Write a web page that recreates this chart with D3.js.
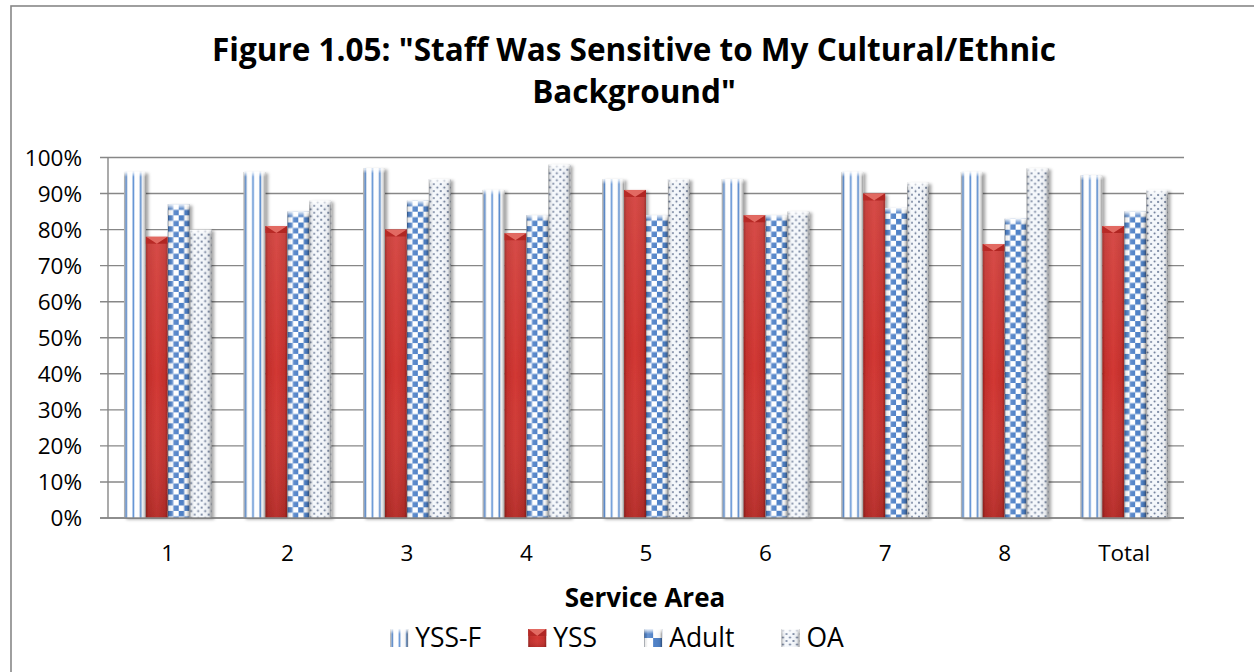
<!DOCTYPE html>
<html>
<head>
<meta charset="utf-8">
<script src="https://cdn.jsdelivr.net/npm/d3@7"></script>
<style>
  html, body { margin: 0; padding: 0; background: #fff; }
  svg { display: block; }
  text { font-family: "Open Sans", "DejaVu Sans", sans-serif; fill: #000; }
</style>
</head>
<body>
<svg id="chart" width="1254" height="672"></svg>
<script>
// Service areas and the share of respondents who agreed, by survey
const categories = ["1", "2", "3", "4", "5", "6", "7", "8", "Total"];
const seriesNames = ["YSS-F", "YSS", "Adult", "OA"];
const yssF  = [96, 96, 97, 91, 94, 94, 96, 96, 95];
const yss   = [78, 81, 80, 79, 91, 84, 90, 76, 81];
const adult = [87, 85, 88, 84, 84, 84, 86, 83, 85];
const oa    = [80, 88, 94, 98, 94, 85, 93, 97, 91];
const yTicks = [0, 10, 20, 30, 40, 50, 60, 70, 80, 90, 100];
const titleLines = ['Figure 1.05: "Staff Was Sensitive to My Cultural/Ethnic', 'Background"'];
const xTitle = "Service Area";

const seriesValues = [yssF, yss, adult, oa];

const svg = d3.select("#chart");
const W = 1254, H = 672;
const plot = { left: 108, right: 1184, top: 157.5, bottom: 518 };

const x = d3.scaleBand().domain(categories).range([plot.left, plot.right]).paddingInner(0).paddingOuter(0);
const xInner = d3.scaleBand().domain(seriesNames).range([0, x.bandwidth()]).paddingInner(0).paddingOuter(0.73);
const y = d3.scaleLinear().domain([0, 100]).range([plot.bottom, plot.top]);
const bw = xInner.bandwidth();

const defs = svg.append("defs");
const blue = "#4f81c7";

// Vertical stripes (YSS-F)
const stripe = defs.append("pattern").attr("id", "pat-stripe")
  .attr("patternUnits", "userSpaceOnUse").attr("width", bw / 3).attr("height", 10);
stripe.append("rect").attr("width", bw / 3).attr("height", 10).attr("fill", "#ffffff");
stripe.append("rect").attr("x", 1.3).attr("width", 1.7).attr("height", 10).attr("fill", "#5c8fd3");

// Checkerboard (Adult)
const cell = bw / 4;
const checker = defs.append("pattern").attr("id", "pat-check")
  .attr("patternUnits", "userSpaceOnUse").attr("width", cell * 2).attr("height", cell * 2);
checker.append("rect").attr("width", cell * 2).attr("height", cell * 2).attr("fill", "#ffffff");
checker.append("rect").attr("x", 0).attr("y", 0).attr("width", cell).attr("height", cell).attr("fill", blue);
checker.append("rect").attr("x", cell).attr("y", cell).attr("width", cell).attr("height", cell).attr("fill", blue);

// Legend-sized checkerboard: two cells across
const lgCell = 9;
const checkerLg = defs.append("pattern").attr("id", "pat-check-lg")
  .attr("patternUnits", "userSpaceOnUse").attr("width", lgCell * 2).attr("height", lgCell * 2);
checkerLg.append("rect").attr("width", lgCell * 2).attr("height", lgCell * 2).attr("fill", "#ffffff");
checkerLg.append("rect").attr("x", 0).attr("y", 0).attr("width", lgCell).attr("height", lgCell).attr("fill", blue);
checkerLg.append("rect").attr("x", lgCell).attr("y", lgCell).attr("width", lgCell).attr("height", lgCell).attr("fill", blue);

// Small dots (OA)
const dots = defs.append("pattern").attr("id", "pat-dots")
  .attr("patternUnits", "userSpaceOnUse").attr("width", 7).attr("height", 7);
dots.append("rect").attr("width", 7).attr("height", 7).attr("fill", "#f4f7fb");
dots.append("circle").attr("cx", 1.5).attr("cy", 1.5).attr("r", 1.0).attr("fill", "#5d6d8c");
dots.append("circle").attr("cx", 5).attr("cy", 5).attr("r", 1.0).attr("fill", "#5d6d8c");

// Red fill, darker at the edges
const redGrad = defs.append("linearGradient").attr("id", "grad-red").attr("x1", 0).attr("x2", 1).attr("y1", 0).attr("y2", 0);
[[0, "#98201c"], [0.12, "#c22f2b"], [0.5, "#d23834"], [0.88, "#c22f2b"], [1, "#92201c"]]
  .forEach(([o, c]) => redGrad.append("stop").attr("offset", o).attr("stop-color", c));
const redV = defs.append("linearGradient").attr("id", "grad-red-v").attr("x1", 0).attr("x2", 0).attr("y1", 0).attr("y2", 1);
[[0, "#ffffff", 0.1], [0.5, "#ffffff", 0], [1, "#000000", 0.12]]
  .forEach(([o, c, a]) => redV.append("stop").attr("offset", o).attr("stop-color", c).attr("stop-opacity", a));

// Rounded edge shading for patterned bars
const edge = defs.append("linearGradient").attr("id", "grad-edge").attr("x1", 0).attr("x2", 1).attr("y1", 0).attr("y2", 0);
[[0, "#000", 0.4], [0.08, "#000", 0.06], [0.2, "#fff", 0.15], [0.5, "#fff", 0], [0.85, "#000", 0.05], [0.94, "#000", 0.22], [1, "#000", 0.45]]
  .forEach(([o, c, a]) => edge.append("stop").attr("offset", o).attr("stop-color", c).attr("stop-opacity", a));

const capGrad = defs.append("linearGradient").attr("id", "grad-cap").attr("x1", 0).attr("x2", 0).attr("y1", 0).attr("y2", 1);
[[0, "#fff", 0.9], [1, "#fff", 0]]
  .forEach(([o, c, a]) => capGrad.append("stop").attr("offset", o).attr("stop-color", c).attr("stop-opacity", a));

const shadow = defs.append("filter").attr("id", "shadow").attr("x", "-30%").attr("y", "-5%").attr("width", "170%").attr("height", "115%");
shadow.append("feDropShadow").attr("dx", 2.5).attr("dy", 1.5).attr("stdDeviation", 1.6)
  .attr("flood-color", "#000").attr("flood-opacity", 0.35);

const fills = { "YSS-F": "url(#pat-stripe)", "YSS": "url(#grad-red)", "Adult": "url(#pat-check)", "OA": "url(#pat-dots)" };

// Chart frame
svg.append("rect").attr("x", 11).attr("y", 6).attr("width", W + 20).attr("height", H + 20)
  .attr("fill", "none").attr("stroke", "#878787").attr("stroke-width", 1.6);

// Title
const title = svg.append("text").attr("text-anchor", "middle")
  .attr("font-size", 31.5).attr("font-weight", 700);
title.selectAll("tspan").data(titleLines).join("tspan")
  .attr("x", 634).attr("y", (d, i) => 61 + i * 42).text(d => d);

// Horizontal gridlines and y tick marks
const grid = svg.append("g");
grid.selectAll("line").data(yTicks).join("line")
  .attr("x1", plot.left - 8).attr("x2", plot.right)
  .attr("y1", d => y(d)).attr("y2", d => y(d))
  .attr("stroke", "#878787").attr("stroke-width", 1.4);
svg.append("line").attr("x1", plot.left).attr("x2", plot.left)
  .attr("y1", plot.top).attr("y2", plot.bottom)
  .attr("stroke", "#878787").attr("stroke-width", 1.4);

svg.append("g").selectAll("text").data(yTicks).join("text")
  .attr("x", 82).attr("y", d => y(d)).attr("dy", "0.36em")
  .attr("text-anchor", "end").attr("font-size", 22.5)
  .text(d => d + "%");

// One bar (or legend swatch) with its fill, edge shading and bevelled top
function drawBar(g, name, w, h, fill) {
  g.append("rect").attr("width", w).attr("height", h).attr("fill", fill || fills[name]);
  if (name === "YSS") {
    g.append("rect").attr("width", w).attr("height", h).attr("fill", "url(#grad-red-v)");
    const capH = Math.min(7, h * 0.4);
    g.append("polygon")
      .attr("points", `0,0 ${w},0 ${w / 2},${capH}`)
      .attr("fill", "#e26a62");
    g.append("polygon")
      .attr("points", `0,0 ${w / 2},${capH} 0,${capH}`)
      .attr("fill", "#b82a27");
    g.append("polygon")
      .attr("points", `${w},0 ${w / 2},${capH} ${w},${capH}`)
      .attr("fill", "#b02624");
  } else {
    g.append("rect").attr("width", w).attr("height", h).attr("fill", "url(#grad-edge)");
    g.append("rect").attr("width", w).attr("height", Math.min(5, h)).attr("fill", "url(#grad-cap)");
  }
}

const groups = svg.append("g").selectAll("g").data(categories).join("g")
  .attr("transform", d => `translate(${x(d)},0)`);

groups.each(function (cat, ci) {
  const g = d3.select(this);
  seriesNames.forEach((name, si) => {
    const v = seriesValues[si][ci];
    const bar = g.append("g")
      .attr("transform", `translate(${xInner(name)},${y(v)})`)
      .attr("filter", "url(#shadow)");
    drawBar(bar, name, bw, y(0) - y(v));
  });
});

// Category axis
svg.append("line").attr("x1", plot.left - 8).attr("x2", plot.right)
  .attr("y1", plot.bottom).attr("y2", plot.bottom)
  .attr("stroke", "#878787").attr("stroke-width", 1.6);

svg.append("g").selectAll("text").data(categories).join("text")
  .attr("x", d => x(d) + x.bandwidth() / 2).attr("y", 561)
  .attr("text-anchor", "middle").attr("font-size", 22.5)
  .text(d => d);

svg.append("text").attr("x", 645).attr("y", 607)
  .attr("text-anchor", "middle").attr("font-size", 26).attr("font-weight", 700)
  .text(xTitle);

// Legend
const legend = svg.append("g");
const lgSize = 18, lgGap = 7, lgSpace = 47, lgBase = 647;
const lgFills = { "YSS-F": "url(#pat-stripe)", "YSS": "url(#grad-red)", "Adult": "url(#pat-check-lg)", "OA": "url(#pat-dots)" };
const items = legend.selectAll("g").data(seriesNames).join("g");
items.append("text").attr("font-size", 26.5).attr("y", lgBase).attr("x", lgSize + lgGap).text(d => d);
const widths = [];
items.each(function () {
  widths.push(d3.select(this).select("text").node().getComputedTextLength());
});
const total = d3.sum(widths) + seriesNames.length * (lgSize + lgGap) + (seriesNames.length - 1) * lgSpace;
let cursor = 617 - total / 2;
items.each(function (name, i) {
  const it = d3.select(this).attr("transform", `translate(${cursor},0)`);
  const m = it.insert("g", "text").attr("transform", `translate(0,${lgBase - lgSize})`);
  drawBar(m, name, lgSize, lgSize, lgFills[name]);
  cursor += lgSize + lgGap + widths[i] + lgSpace;
});
</script>
</body>
</html>
